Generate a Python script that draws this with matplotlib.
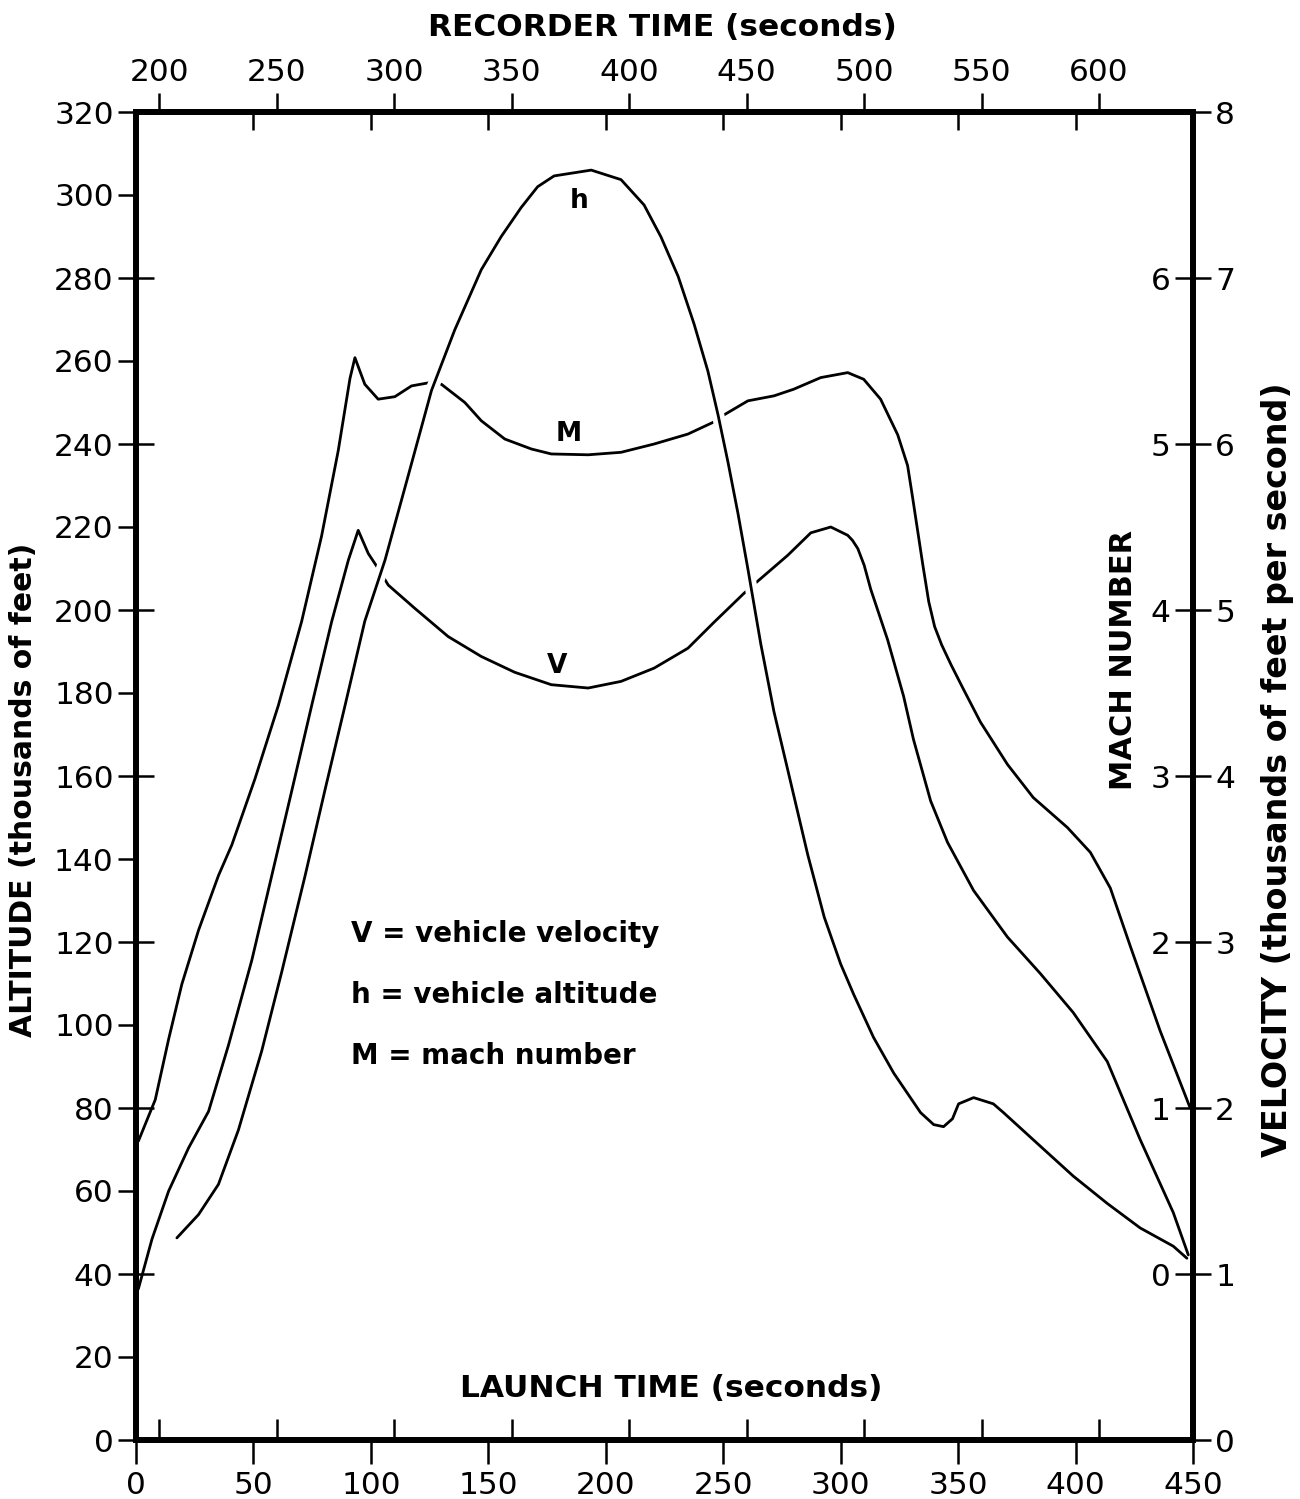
"""
Flight trajectory chart: altitude, Mach number and velocity vs launch time,
with recorder time on the top axis.
"""

import numpy as np
import matplotlib
matplotlib.use("Agg")
import matplotlib.pyplot as plt
from matplotlib.ticker import FixedLocator

plt.rcParams["font.family"] = ["DejaVu Sans"]

# ─────────────────────────────────────────────
# Data
# ─────────────────────────────────────────────
RECORDER_OFFSET = 190          # recorder time = launch time + offset

# h : vehicle altitude (thousands of feet)
h_time = [17.4, 26.6, 35.1, 43.6, 53.5, 62.0, 72.0, 80.4, 89.0, 97.4, 106.0,
          115.9, 125.8, 135.7, 147.0, 155.5, 164.0, 171.0, 178.0, 193.8,
          206.5, 216.3, 223.5, 230.8, 237.6, 243.5, 247.8, 252.0, 256.3,
          260.5, 266.0, 271.6, 277.5, 286.0, 293.0, 300.0, 305.6, 314.0,
          322.6, 334.0, 339.6, 343.8, 347.6, 350.2, 356.6, 365.0, 369.3,
          385.0, 399.0, 413.5, 427.5, 441.6, 447.4]
h_alt = [48.7, 54.3, 61.6, 74.7, 93.7, 112.7, 136.0, 156.5, 177.0, 197.3,
         212.0, 232.4, 252.9, 267.5, 282.0, 290.0, 297.0, 302.0, 304.6, 306.0,
         303.7, 297.6, 289.9, 280.4, 268.9, 257.5, 247.0, 235.7, 223.2, 209.9,
         191.8, 175.5, 161.4, 141.0, 126.0, 114.7, 107.3, 97.0, 88.4, 78.9,
         76.0, 75.5, 77.4, 81.0, 82.5, 81.0, 78.9, 70.8, 63.6, 57.0, 51.1,
         46.7, 43.8]

# M : mach number
m_time = [1.0, 8.2, 13.9, 19.5, 26.6, 35.1, 40.8, 50.7, 60.6, 70.5, 79.0,
          86.1, 91.1, 93.2, 97.4, 103.1, 110.2, 117.3, 125.1, 130.0, 140.0,
          147.0, 157.0, 168.3, 176.8, 192.5, 206.5, 220.6, 235.0, 245.6,
          250.3, 260.5, 271.6, 280.0, 291.5, 303.0, 309.8, 317.0, 324.3,
          328.5, 330.6, 335.0, 337.5, 340.0, 343.0, 347.0, 352.0, 359.5,
          371.0, 382.0, 396.5, 406.3, 414.8, 423.3, 436.0, 448.8]
m_mach = [0.80, 1.05, 1.415, 1.745, 2.07, 2.40, 2.585, 2.985, 3.425, 3.93,
          4.445, 4.96, 5.395, 5.52, 5.36, 5.27, 5.285, 5.35, 5.37, 5.36, 5.25,
          5.14, 5.03, 4.97, 4.94, 4.935, 4.95, 5.00, 5.06, 5.13, 5.175, 5.26,
          5.29, 5.33, 5.40, 5.43, 5.39, 5.27, 5.055, 4.87, 4.68, 4.27, 4.05,
          3.90, 3.79, 3.67, 3.53, 3.325, 3.07, 2.87, 2.69, 2.54, 2.325, 1.975,
          1.465, 1.00]

# V : vehicle velocity (thousands of feet per second)
v_time = [1.0, 6.8, 13.9, 22.4, 30.9, 39.4, 49.3, 57.8, 66.3, 74.8, 83.3,
          90.4, 94.6, 98.9, 103.1, 107.4, 118.7, 132.9, 147.0, 161.2, 176.8,
          192.5, 206.5, 220.6, 235.0, 246.0, 258.8, 264.8, 277.5, 287.3,
          295.8, 303.0, 305.0, 307.3, 310.0, 312.8, 320.0, 326.8, 331.0,
          338.3, 345.5, 356.6, 371.0, 385.0, 399.0, 413.5, 427.5, 441.6, 448.0]
v_vel = [0.91, 1.21, 1.50, 1.76, 1.98, 2.38, 2.89, 3.40, 3.91, 4.425, 4.93,
         5.30, 5.48, 5.34, 5.25, 5.15, 5.01, 4.84, 4.72, 4.625, 4.55, 4.53,
         4.57, 4.65, 4.77, 4.925, 5.10, 5.175, 5.33, 5.465, 5.50, 5.45, 5.42,
         5.37, 5.27, 5.125, 4.82, 4.48, 4.22, 3.85, 3.60, 3.31, 3.03, 2.81,
         2.575, 2.28, 1.81, 1.37, 1.115]

launch_ticks = list(range(0, 451, 50))
recorder_ticks = list(range(200, 601, 50))
alt_ticks = list(range(0, 321, 20))
mach_ticks = list(range(0, 7))
vel_ticks = list(range(0, 9))

# ─────────────────────────────────────────────
# Figure
# ─────────────────────────────────────────────
W, H = 1300, 1499
fig = plt.figure(figsize=(W / 100, H / 100), dpi=100, facecolor="white")
ax = fig.add_axes([136 / W, 1 - 1440 / H, (1193 - 136) / W, (1440 - 112) / H])

SPINE_W = 4.0
TICK_W = 1.8
FS_TICK = 22.5
FS_TITLE = 22.5
INK = "black"

ax_v = ax.twinx()
ax_m = ax.twinx()
ax.set_zorder(3)
ax.patch.set_visible(False)

ax.set_xlim(0, 450)
ax.set_ylim(0, 320)
ax_v.set_ylim(0, 8)
ax_m.set_ylim(-1, 7)

# curves
ax_m.plot(m_time, m_mach, color=INK, lw=2.0, solid_capstyle="round")
ax_v.plot(v_time, v_vel, color=INK, lw=2.0, solid_capstyle="round")

# draftsman's gaps where h crosses M and V: white band under h
h_t = np.array(h_time)
h_a = np.array(h_alt)
sel = (h_t > 95) & (h_t < 275)
ax.plot(h_t[sel], h_a[sel], color="white", lw=9, solid_capstyle="butt", zorder=2.1)
ax.plot(h_time, h_alt, color=INK, lw=2.0, solid_capstyle="round", zorder=2.2)

# spines
for a in (ax, ax_v, ax_m):
    for sp in a.spines.values():
        sp.set_linewidth(SPINE_W)
        sp.set_color(INK)

# left: altitude (outward), velocity positions inward
ax.set_yticks(alt_ticks)
ax.yaxis.set_minor_locator(FixedLocator(alt_ticks[::2]))
ax.yaxis.remove_overlapping_locs = False
ax.tick_params(axis="y", which="major", direction="out", length=13,
               width=TICK_W, labelsize=FS_TICK, pad=3, right=False)
ax.tick_params(axis="y", which="minor", direction="in", length=13,
               width=TICK_W, right=False)

# bottom: launch time (outward), recorder positions inward
ax.set_xticks(launch_ticks)
ax.xaxis.set_minor_locator(FixedLocator([r - RECORDER_OFFSET for r in recorder_ticks]))
ax.xaxis.remove_overlapping_locs = False
ax.tick_params(axis="x", which="major", direction="out", length=17,
               width=TICK_W, labelsize=FS_TICK, pad=5, top=False)
ax.tick_params(axis="x", which="minor", direction="in", length=15,
               width=TICK_W, top=False)

# top: recorder time (outward), launch positions inward
ax_top = ax.secondary_xaxis("top", functions=(lambda t: t + RECORDER_OFFSET,
                                              lambda r: r - RECORDER_OFFSET))
ax_top.set_xticks(recorder_ticks)
ax_top.xaxis.set_minor_locator(FixedLocator([t + RECORDER_OFFSET for t in launch_ticks[1:]]))
ax_top.xaxis.remove_overlapping_locs = False
ax_top.tick_params(axis="x", which="major", direction="out", length=14,
                   width=TICK_W, labelsize=FS_TICK, pad=4)
ax_top.tick_params(axis="x", which="minor", direction="in", length=13,
                   width=TICK_W)
ax_top.spines["top"].set_linewidth(SPINE_W)

# right: velocity (outward), mach (inward, labels inside)
ax_v.set_yticks(vel_ticks)
ax_v.tick_params(axis="y", direction="out", length=13, width=TICK_W,
                 labelsize=FS_TICK, pad=3)
ax_m.set_yticks(mach_ticks)
ax_m.tick_params(axis="y", direction="in", length=13, width=TICK_W,
                 labelsize=FS_TICK, pad=-16)
for tk in ax_m.yaxis.get_major_ticks():
    tk.label2.set_horizontalalignment("right")

# ─────────────────────────────────────────────
# Text
# ─────────────────────────────────────────────
fig.text(662 / W, 1 - 28 / H, "RECORDER TIME (seconds)", ha="center",
         va="center", fontsize=FS_TITLE, fontweight="bold")
fig.text(24 / W, 1 - 790 / H, "ALTITUDE (thousands of feet)", ha="center",
         va="center", rotation=90, fontsize=21.5, fontweight="bold")
fig.text(1124 / W, 1 - 660 / H, "MACH NUMBER", ha="center", va="center",
         rotation=90, fontsize=22, fontweight="bold")
fig.text(1278 / W, 1 - 770 / H, "VELOCITY (thousands of feet per second)",
         ha="center", va="center", rotation=90, fontsize=24, fontweight="bold")

ax.text(227.8, 12.5, "LAUNCH TIME (seconds)", ha="center", va="center",
        fontsize=FS_TITLE, fontweight="bold", zorder=5)

legend_lines = ["V = vehicle velocity", "h = vehicle altitude", "M = mach number"]
for i, line in enumerate(legend_lines):
    ax.text(91.5, 122 - 14.7 * i, line, ha="left", va="center",
            fontsize=20, fontweight="bold", zorder=5)

ax.text(188.7, 298.5, "h", ha="center", va="center", fontsize=19,
        fontweight="bold", zorder=5)
ax.text(184, 242.5, "M", ha="center", va="center", fontsize=19,
        fontweight="bold", zorder=5)
ax.text(179.3, 186.5, "V", ha="center", va="center", fontsize=19,
        fontweight="bold", zorder=5)

fig.savefig("out.png", dpi=100, facecolor="white")
